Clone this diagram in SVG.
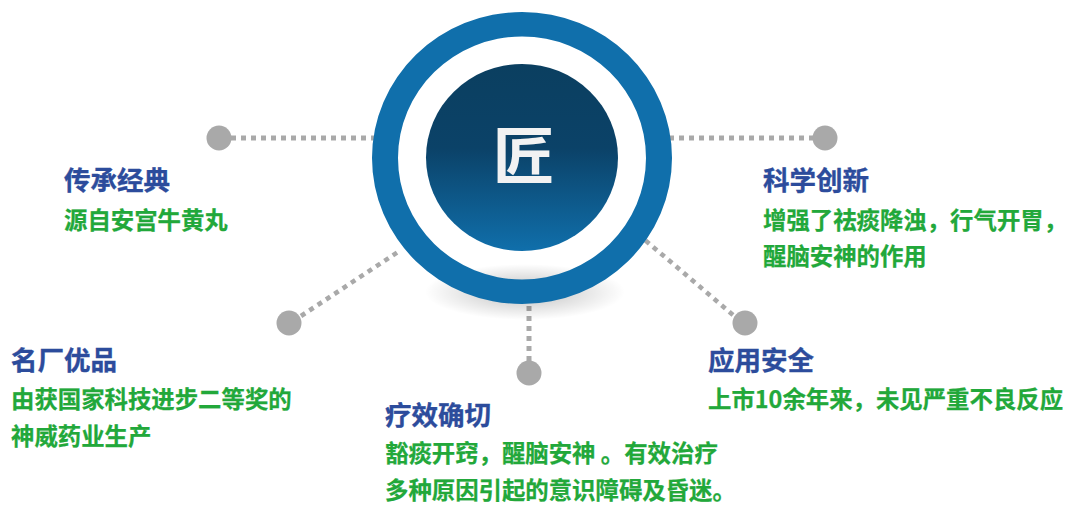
<svg xmlns="http://www.w3.org/2000/svg" width="1080" height="508" viewBox="0 0 1080 508">
<style>
.c{stroke:#a9a9a9;stroke-width:5;stroke-dasharray:5 5;fill:none}
.e{stroke-width:4.6}
.d{fill:#a9a9a9}
text{font-family:"Noto Sans CJK SC","Liberation Sans",sans-serif;font-weight:700}
.t{font-size:26.5px;fill:#2c4c9c;stroke:#2c4c9c;stroke-width:.35}
.s{font-size:23.4px;fill:#22a83a;stroke:#22a83a;stroke-width:.25}
</style>
<defs>
<linearGradient id="g" x1="0" y1="0" x2="0" y2="1"><stop offset="0" stop-color="#0b3f60"/><stop offset=".45" stop-color="#0b4268"/><stop offset="1" stop-color="#106fab"/></linearGradient>
<radialGradient id="sh"><stop offset="0" stop-color="#000" stop-opacity=".3"/><stop offset=".45" stop-color="#000" stop-opacity=".14"/><stop offset="1" stop-color="#000" stop-opacity="0"/></radialGradient>
</defs>
<rect width="1080" height="508" fill="#fff"/>
<g id="connectors">
<path class="c" d="M231 138H374"/>
<path class="c" d="M669 138H813"/>
<path class="c e" d="M301 316L401 250"/>
<path class="c e" d="M733 315L645 240"/>
<path class="c" d="M529 361V303"/>
</g>
<g id="hub">
<ellipse cx="525" cy="292" rx="100" ry="28" fill="url(#sh)"/>
<path fill="#106fab" fill-rule="evenodd" d="M372 158a150 146 0 1 0 300 0a150 146 0 1 0-300 0ZM398 158a124 121.5 0 1 1 248 0a124 121.5 0 1 1-248 0Z"/>
<ellipse cx="522" cy="157.5" rx="96" ry="93.5" fill="url(#g)"/>
<text x="524" y="179" text-anchor="middle" style="font-size:62px;fill:#f2f2f2">匠</text>
</g>
<g id="n1"><circle class="d" cx="219" cy="138" r="12.5"/><text class="t" x="64" y="190">传承经典</text><text class="s" x="64" y="229">源自安宫牛黄丸</text></g>
<g id="n2"><circle class="d" cx="825" cy="138" r="12.5"/><text class="t" x="763" y="190">科学创新</text><text class="s" x="763" y="229">增强了祛痰降浊，行气开胃，</text><text class="s" x="763" y="265">醒脑安神的作用</text></g>
<g id="n3"><circle class="d" cx="289" cy="323" r="12.5"/><text class="t" x="11" y="370">名厂优品</text><text class="s" x="11" y="408">由获国家科技进步二等奖的</text><text class="s" x="11" y="445">神威药业生产</text></g>
<g id="n4"><circle class="d" cx="745" cy="323" r="12.5"/><text class="t" x="708" y="370">应用安全</text><text class="s" x="708" y="408">上市10余年来，未见严重不良反应</text></g>
<g id="n5"><circle class="d" cx="529" cy="373" r="12.5"/><text class="t" x="385" y="425">疗效确切</text><text class="s" x="385" y="462">豁痰开窍，醒脑安神 。有效治疗</text><text class="s" x="385" y="499">多种原因引起的意识障碍及昏迷。</text></g>
</svg>
